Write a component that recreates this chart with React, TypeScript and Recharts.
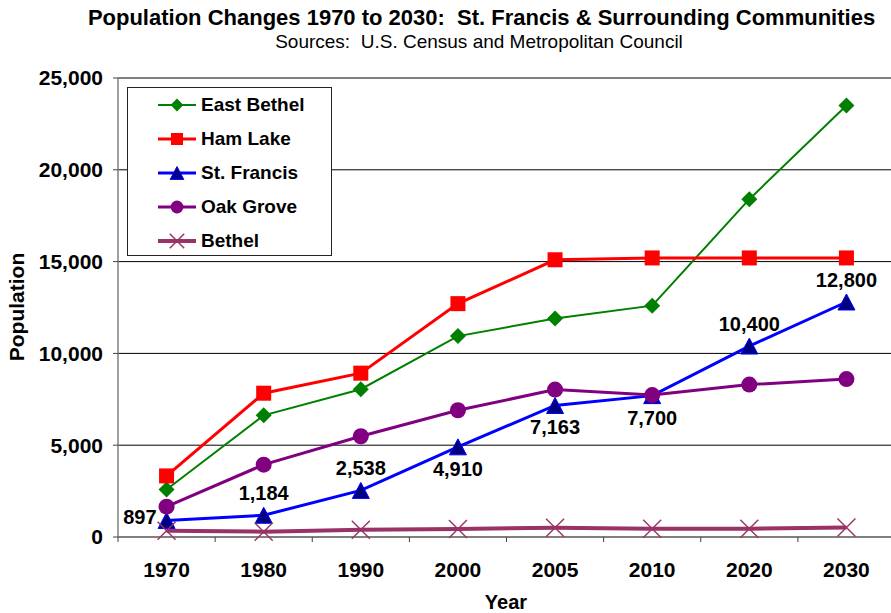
import React from 'react';
import { LineChart, Line, XAxis, YAxis, CartesianGrid, LabelList, Legend } from 'recharts';

const years = ['1970', '1980', '1990', '2000', '2005', '2010', '2020', '2030'];
const eastBethel = [2586, 6626, 8050, 10941, 11900, 12600, 18400, 23500];
const hamLake = [3327, 7832, 8924, 12710, 15100, 15200, 15200, 15200];
const stFrancis = [897, 1184, 2538, 4910, 7163, 7700, 10400, 12800];
const oakGrove = [1650, 3939, 5488, 6903, 8030, 7730, 8300, 8600];
const bethel = [340, 290, 400, 440, 500, 450, 450, 520];
const yTicks = [0, 5000, 10000, 15000, 20000, 25000];
const labelSide = ['left', 'top', 'top', 'bottom', 'bottom', 'bottom', 'top', 'top'];

const FONT = '"Liberation Sans", Arial, Helvetica, sans-serif';

const data = years.map((year, i) => ({
  x: i + 0.5,
  year,
  eastBethel: eastBethel[i],
  hamLake: hamLake[i],
  stFrancis: stFrancis[i],
  oakGrove: oakGrove[i],
  bethel: bethel[i],
}));

const series = [
  { key: 'eastBethel', name: 'East Bethel', stroke: '#008000', fill: '#008000', width: 2, shape: 'diamond' },
  { key: 'hamLake', name: 'Ham Lake', stroke: '#FF0000', fill: '#FF0000', width: 3, shape: 'square' },
  { key: 'stFrancis', name: 'St. Francis', stroke: '#0000FF', fill: '#000080', width: 3, shape: 'triangle' },
  { key: 'oakGrove', name: 'Oak Grove', stroke: '#800080', fill: '#800080', width: 3, shape: 'circle' },
  { key: 'bethel', name: 'Bethel', stroke: '#993366', fill: '#993366', width: 4, shape: 'x' },
];

function Marker({ shape, cx, cy, fill, stroke, s = 1 }: any) {
  if (cx == null || cy == null) return null;
  if (shape === 'diamond') {
    const r = 8 * s;
    return <polygon points={`${cx},${cy - r} ${cx + r},${cy} ${cx},${cy + r} ${cx - r},${cy}`} fill={fill} />;
  }
  if (shape === 'square') {
    const r = 7.5 * s;
    return <rect x={cx - r} y={cy - r} width={2 * r} height={2 * r} fill={fill} />;
  }
  if (shape === 'triangle') {
    const w = 8.5 * s;
    const h = 8 * s;
    return (
      <polygon
        points={`${cx},${cy - h} ${cx + w},${cy + h} ${cx - w},${cy + h}`}
        fill={fill}
        stroke={stroke}
        strokeWidth={1}
      />
    );
  }
  if (shape === 'circle') {
    return <circle cx={cx} cy={cy} r={8 * s} fill={fill} />;
  }
  const r = 9 * s;
  return (
    <g stroke={fill} strokeWidth={1.5}>
      <line x1={cx - r} y1={cy - r} x2={cx + r} y2={cy + r} />
      <line x1={cx - r} y1={cy + r} x2={cx + r} y2={cy - r} />
    </g>
  );
}

const renderLegend = () => (
  <div
    style={{
      width: 205,
      height: 169,
      boxSizing: 'border-box',
      border: '1px solid #222',
      background: '#fff',
      position: 'relative',
      fontFamily: FONT,
    }}
  >
    {series.map((s, i) => (
      <div
        key={s.key}
        style={{ position: 'absolute', left: 0, top: 17 + i * 34 - 12, height: 24, display: 'flex', alignItems: 'center' }}
      >
        <svg width={72} height={24} style={{ display: 'block' }}>
          <line x1={30} y1={12} x2={68} y2={12} stroke={s.stroke} strokeWidth={s.width} />
          <Marker shape={s.shape} cx={49} cy={12} fill={s.fill} stroke={s.stroke} s={0.8} />
        </svg>
        <span style={{ fontWeight: 'bold', fontSize: 19, color: '#000', whiteSpace: 'nowrap', marginLeft: 1 }}>{s.name}</span>
      </div>
    ))}
  </div>
);

const SFLabel = (props: any) => {
  const { x, y, value, index } = props;
  const side = labelSide[index];
  const text = Number(value).toLocaleString('en-US');
  let tx = x;
  let ty = y;
  let anchor: any = 'middle';
  if (side === 'left') {
    tx = x - 10;
    ty = y - 4;
    anchor = 'end';
  } else if (side === 'top') {
    ty = y - 22;
  } else {
    ty = y + 22;
  }
  return (
    <text x={tx} y={ty} dy={7} textAnchor={anchor} fontFamily={FONT} fontWeight="bold" fontSize={20} fill="#000">
      {text}
    </text>
  );
};

export default function App() {
  const tickStyle = { fontFamily: FONT, fontWeight: 'bold' as const, fontSize: 21, fill: '#000' };
  return (
    <div
      style={{
        position: 'fixed',
        left: 0,
        top: 0,
        width: 891,
        height: 613,
        overflow: 'hidden',
        background: '#fff',
        fontFamily: FONT,
      }}
    >
      <div
        style={{
          position: 'absolute',
          left: 0,
          width: 963,
          top: 6,
          textAlign: 'center',
          fontWeight: 'bold',
          fontSize: 22,
          lineHeight: '24px',
          color: '#000',
          whiteSpace: 'nowrap',
        }}
      >
        Population Changes 1970 to 2030:&nbsp; St. Francis &amp; Surrounding Communities
      </div>
      <div
        style={{
          position: 'absolute',
          left: 0,
          width: 958,
          top: 31,
          textAlign: 'center',
          fontSize: 19,
          lineHeight: '21px',
          color: '#000',
          whiteSpace: 'nowrap',
        }}
      >
        Sources:&nbsp; U.S. Census and Metropolitan Council
      </div>
      <div
        style={{
          position: 'absolute',
          left: 506 - 50,
          width: 100,
          top: 592,
          textAlign: 'center',
          fontWeight: 'bold',
          fontSize: 20,
          lineHeight: '20px',
          color: '#000',
        }}
      >
        Year
      </div>
      <div
        style={{
          position: 'absolute',
          left: 16.5 - 60,
          top: 307 - 11,
          width: 120,
          height: 22,
          lineHeight: '22px',
          textAlign: 'center',
          fontWeight: 'bold',
          fontSize: 21,
          color: '#000',
          transform: 'rotate(-90deg)',
          transformOrigin: '50% 50%',
        }}
      >
        Population
      </div>
      <div style={{ position: 'absolute', left: 0, top: 0 }}>
        <LineChart width={900} height={613} data={data} margin={{ top: 78, right: 5, bottom: 36, left: 0 }}>
          <CartesianGrid vertical={false} stroke="#000" strokeWidth={1} />
          <XAxis
            xAxisId="b"
            type="number"
            dataKey="x"
            domain={[0, 8]}
            ticks={[0, 1, 2, 3, 4, 5, 6, 7, 8]}
            tickFormatter={() => ''}
            height={5}
            tickSize={5}
            tickMargin={0}
            stroke="#808080"
            axisLine={{ stroke: '#808080', strokeWidth: 1.5 }}
            tickLine={{ stroke: '#404040' }}
            allowDataOverflow
          />
          <XAxis
            xAxisId="c"
            type="number"
            dataKey="x"
            domain={[0, 8]}
            ticks={[0.5, 1.5, 2.5, 3.5, 4.5, 5.5, 6.5, 7.5]}
            tickFormatter={(v: number) => years[Math.floor(v)]}
            height={35}
            tickSize={0}
            tickMargin={20}
            axisLine={false}
            tickLine={false}
            tick={tickStyle}
            interval={0}
          />
          <YAxis
            domain={[0, 25000]}
            ticks={yTicks}
            width={118}
            tickFormatter={(v: number) => v.toLocaleString('en-US')}
            tickSize={5}
            tickMargin={10}
            axisLine={{ stroke: '#808080', strokeWidth: 1.5 }}
            tickLine={{ stroke: '#404040' }}
            tick={tickStyle}
            interval={0}
          />
          <Legend
            layout="horizontal"
            verticalAlign="middle"
            align="center"
            wrapperStyle={{ left: 127, top: 87, width: 205, height: 169 }}
            content={renderLegend}
          />
          {series.map((s) => (
            <Line
              key={s.key}
              xAxisId="b"
              type="linear"
              dataKey={s.key}
              name={s.name}
              stroke={s.stroke}
              strokeWidth={s.width}
              isAnimationActive={false}
              dot={(p: any) => <Marker key={`${s.key}-${p.index}`} shape={s.shape} cx={p.cx} cy={p.cy} fill={s.fill} stroke={s.stroke} />}
              activeDot={false}
            >
              {s.key === 'stFrancis' ? <LabelList dataKey="stFrancis" content={SFLabel} /> : null}
            </Line>
          ))}
        </LineChart>
      </div>
    </div>
  );
}
